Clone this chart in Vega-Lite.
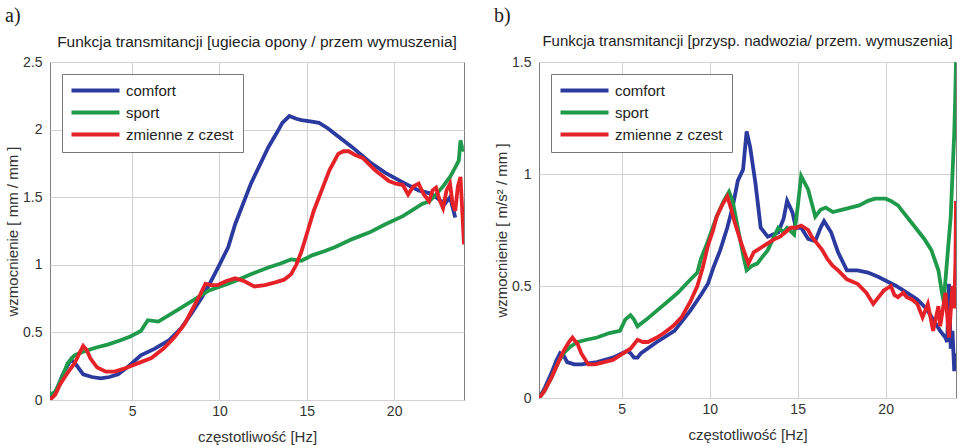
{
  "$schema": "https://vega.github.io/schema/vega-lite/v6.json",
  "padding": 5,
  "background": "white",
  "config": {
    "font": "Liberation Sans",
    "view": {"stroke": "#808080", "strokeWidth": 1},
    "concat": {"spacing": 29},
    "axis": {
      "gridColor": "#d2d2d2", "gridOpacity": 1, "gridWidth": 1,
      "domain": false, "ticks": false,
      "labelColor": "#333", "labelFontSize": 14, "labelFont": "Liberation Sans",
      "titleFontSize": 15, "titleFontWeight": "normal", "titleColor": "#333", "titleFont": "Liberation Sans"
    },
    "legend": {
      "orient": "top-left", "offset": 12, "title": null,
      "fillColor": "white", "strokeColor": "#777", "padding": 9,
      "symbolType": "M-1.4,0H8.2", "symbolStrokeWidth": 4, "symbolSize": 100,
      "labelOffset": 40, "rowPadding": 5,
      "labelFontSize": 15, "labelColor": "#222", "labelFont": "Liberation Sans"
    }
  },
  "datasets": {
    "a": [
      {"f":0.3,"v":0.0,"s":"comfort"},{"f":0.7,"v":0.08,"s":"comfort"},{"f":1.0,"v":0.18,"s":"comfort"},{"f":1.5,"v":0.30,"s":"comfort"},{"f":1.8,"v":0.26,"s":"comfort"},{"f":2.2,"v":0.19,"s":"comfort"},{"f":2.7,"v":0.17,"s":"comfort"},{"f":3.2,"v":0.16,"s":"comfort"},{"f":3.7,"v":0.17,"s":"comfort"},{"f":4.2,"v":0.19,"s":"comfort"},{"f":4.8,"v":0.25,"s":"comfort"},{"f":5.5,"v":0.33,"s":"comfort"},{"f":6.3,"v":0.38,"s":"comfort"},{"f":7.1,"v":0.44,"s":"comfort"},{"f":7.8,"v":0.53,"s":"comfort"},{"f":8.4,"v":0.64,"s":"comfort"},{"f":9.0,"v":0.76,"s":"comfort"},{"f":9.4,"v":0.85,"s":"comfort"},{"f":10.0,"v":1.0,"s":"comfort"},{"f":10.5,"v":1.13,"s":"comfort"},{"f":10.9,"v":1.30,"s":"comfort"},{"f":11.8,"v":1.60,"s":"comfort"},{"f":12.8,"v":1.87,"s":"comfort"},{"f":13.3,"v":1.98,"s":"comfort"},{"f":13.6,"v":2.05,"s":"comfort"},{"f":14.0,"v":2.10,"s":"comfort"},{"f":14.4,"v":2.08,"s":"comfort"},{"f":14.7,"v":2.07,"s":"comfort"},{"f":15.2,"v":2.06,"s":"comfort"},{"f":15.7,"v":2.05,"s":"comfort"},{"f":16.2,"v":2.01,"s":"comfort"},{"f":16.6,"v":1.97,"s":"comfort"},{"f":17.6,"v":1.87,"s":"comfort"},{"f":18.6,"v":1.76,"s":"comfort"},{"f":19.5,"v":1.68,"s":"comfort"},{"f":20.5,"v":1.61,"s":"comfort"},{"f":21.4,"v":1.55,"s":"comfort"},{"f":22.0,"v":1.53,"s":"comfort"},{"f":22.4,"v":1.50,"s":"comfort"},{"f":22.9,"v":1.45,"s":"comfort"},{"f":23.2,"v":1.50,"s":"comfort"},{"f":23.5,"v":1.35,"s":"comfort"},
      {"f":0.3,"v":0.04,"s":"sport"},{"f":0.6,"v":0.06,"s":"sport"},{"f":1.0,"v":0.17,"s":"sport"},{"f":1.3,"v":0.27,"s":"sport"},{"f":1.7,"v":0.33,"s":"sport"},{"f":2.25,"v":0.36,"s":"sport"},{"f":3.0,"v":0.39,"s":"sport"},{"f":3.6,"v":0.41,"s":"sport"},{"f":4.3,"v":0.44,"s":"sport"},{"f":4.9,"v":0.47,"s":"sport"},{"f":5.5,"v":0.51,"s":"sport"},{"f":5.9,"v":0.59,"s":"sport"},{"f":6.5,"v":0.58,"s":"sport"},{"f":7.4,"v":0.65,"s":"sport"},{"f":8.4,"v":0.73,"s":"sport"},{"f":9.4,"v":0.81,"s":"sport"},{"f":10.5,"v":0.86,"s":"sport"},{"f":10.9,"v":0.88,"s":"sport"},{"f":11.8,"v":0.93,"s":"sport"},{"f":12.8,"v":0.98,"s":"sport"},{"f":13.5,"v":1.01,"s":"sport"},{"f":14.1,"v":1.04,"s":"sport"},{"f":14.7,"v":1.03,"s":"sport"},{"f":15.3,"v":1.07,"s":"sport"},{"f":16.0,"v":1.10,"s":"sport"},{"f":16.6,"v":1.13,"s":"sport"},{"f":17.6,"v":1.19,"s":"sport"},{"f":18.6,"v":1.24,"s":"sport"},{"f":19.5,"v":1.30,"s":"sport"},{"f":20.5,"v":1.36,"s":"sport"},{"f":21.0,"v":1.40,"s":"sport"},{"f":21.6,"v":1.45,"s":"sport"},{"f":22.0,"v":1.47,"s":"sport"},{"f":22.4,"v":1.52,"s":"sport"},{"f":22.8,"v":1.58,"s":"sport"},{"f":23.2,"v":1.65,"s":"sport"},{"f":23.5,"v":1.72,"s":"sport"},{"f":23.7,"v":1.77,"s":"sport"},{"f":23.8,"v":1.92,"s":"sport"},{"f":23.9,"v":1.86,"s":"sport"},{"f":24.0,"v":1.84,"s":"sport"},
      {"f":0.3,"v":0.0,"s":"zmienne z czest"},{"f":0.6,"v":0.04,"s":"zmienne z czest"},{"f":0.9,"v":0.12,"s":"zmienne z czest"},{"f":1.3,"v":0.20,"s":"zmienne z czest"},{"f":1.7,"v":0.27,"s":"zmienne z czest"},{"f":2.0,"v":0.35,"s":"zmienne z czest"},{"f":2.2,"v":0.40,"s":"zmienne z czest"},{"f":2.4,"v":0.37,"s":"zmienne z czest"},{"f":2.6,"v":0.31,"s":"zmienne z czest"},{"f":3.0,"v":0.24,"s":"zmienne z czest"},{"f":3.5,"v":0.21,"s":"zmienne z czest"},{"f":4.0,"v":0.21,"s":"zmienne z czest"},{"f":4.5,"v":0.23,"s":"zmienne z czest"},{"f":4.9,"v":0.25,"s":"zmienne z czest"},{"f":5.5,"v":0.28,"s":"zmienne z czest"},{"f":6.1,"v":0.31,"s":"zmienne z czest"},{"f":6.8,"v":0.38,"s":"zmienne z czest"},{"f":7.4,"v":0.46,"s":"zmienne z czest"},{"f":8.0,"v":0.56,"s":"zmienne z czest"},{"f":8.4,"v":0.66,"s":"zmienne z czest"},{"f":8.9,"v":0.78,"s":"zmienne z czest"},{"f":9.2,"v":0.86,"s":"zmienne z czest"},{"f":9.5,"v":0.85,"s":"zmienne z czest"},{"f":9.9,"v":0.85,"s":"zmienne z czest"},{"f":10.4,"v":0.88,"s":"zmienne z czest"},{"f":10.9,"v":0.90,"s":"zmienne z czest"},{"f":11.4,"v":0.88,"s":"zmienne z czest"},{"f":12.0,"v":0.84,"s":"zmienne z czest"},{"f":12.6,"v":0.85,"s":"zmienne z czest"},{"f":13.2,"v":0.87,"s":"zmienne z czest"},{"f":13.7,"v":0.89,"s":"zmienne z czest"},{"f":14.1,"v":0.93,"s":"zmienne z czest"},{"f":14.4,"v":1.00,"s":"zmienne z czest"},{"f":14.7,"v":1.10,"s":"zmienne z czest"},{"f":15.1,"v":1.27,"s":"zmienne z czest"},{"f":15.4,"v":1.40,"s":"zmienne z czest"},{"f":15.7,"v":1.50,"s":"zmienne z czest"},{"f":16.0,"v":1.60,"s":"zmienne z czest"},{"f":16.3,"v":1.70,"s":"zmienne z czest"},{"f":16.8,"v":1.82,"s":"zmienne z czest"},{"f":17.1,"v":1.84,"s":"zmienne z czest"},{"f":17.4,"v":1.84,"s":"zmienne z czest"},{"f":17.8,"v":1.81,"s":"zmienne z czest"},{"f":18.2,"v":1.79,"s":"zmienne z czest"},{"f":18.9,"v":1.70,"s":"zmienne z czest"},{"f":19.3,"v":1.66,"s":"zmienne z czest"},{"f":19.7,"v":1.62,"s":"zmienne z czest"},{"f":20.1,"v":1.60,"s":"zmienne z czest"},{"f":20.5,"v":1.59,"s":"zmienne z czest"},{"f":20.8,"v":1.52,"s":"zmienne z czest"},{"f":21.1,"v":1.58,"s":"zmienne z czest"},{"f":21.4,"v":1.60,"s":"zmienne z czest"},{"f":21.7,"v":1.52,"s":"zmienne z czest"},{"f":22.0,"v":1.47,"s":"zmienne z czest"},{"f":22.2,"v":1.55,"s":"zmienne z czest"},{"f":22.4,"v":1.57,"s":"zmienne z czest"},{"f":22.6,"v":1.48,"s":"zmienne z czest"},{"f":22.8,"v":1.42,"s":"zmienne z czest"},{"f":23.0,"v":1.55,"s":"zmienne z czest"},{"f":23.2,"v":1.60,"s":"zmienne z czest"},{"f":23.35,"v":1.45,"s":"zmienne z czest"},{"f":23.5,"v":1.40,"s":"zmienne z czest"},{"f":23.65,"v":1.58,"s":"zmienne z czest"},{"f":23.8,"v":1.65,"s":"zmienne z czest"},{"f":23.9,"v":1.40,"s":"zmienne z czest"},{"f":24.0,"v":1.15,"s":"zmienne z czest"}
    ],
    "b": [
      {"f":0.3,"v":0.0,"s":"comfort"},{"f":0.6,"v":0.04,"s":"comfort"},{"f":1.0,"v":0.11,"s":"comfort"},{"f":1.3,"v":0.17,"s":"comfort"},{"f":1.5,"v":0.20,"s":"comfort"},{"f":1.7,"v":0.19,"s":"comfort"},{"f":1.9,"v":0.16,"s":"comfort"},{"f":2.3,"v":0.15,"s":"comfort"},{"f":2.7,"v":0.15,"s":"comfort"},{"f":3.6,"v":0.16,"s":"comfort"},{"f":4.5,"v":0.18,"s":"comfort"},{"f":5.3,"v":0.21,"s":"comfort"},{"f":5.5,"v":0.20,"s":"comfort"},{"f":5.7,"v":0.18,"s":"comfort"},{"f":5.9,"v":0.18,"s":"comfort"},{"f":6.1,"v":0.20,"s":"comfort"},{"f":7.0,"v":0.25,"s":"comfort"},{"f":8.0,"v":0.30,"s":"comfort"},{"f":8.9,"v":0.39,"s":"comfort"},{"f":9.5,"v":0.46,"s":"comfort"},{"f":9.9,"v":0.51,"s":"comfort"},{"f":10.2,"v":0.58,"s":"comfort"},{"f":10.6,"v":0.66,"s":"comfort"},{"f":11.0,"v":0.76,"s":"comfort"},{"f":11.3,"v":0.85,"s":"comfort"},{"f":11.6,"v":0.97,"s":"comfort"},{"f":11.9,"v":1.02,"s":"comfort"},{"f":12.1,"v":1.19,"s":"comfort"},{"f":12.3,"v":1.12,"s":"comfort"},{"f":12.6,"v":0.96,"s":"comfort"},{"f":12.9,"v":0.76,"s":"comfort"},{"f":13.3,"v":0.72,"s":"comfort"},{"f":13.9,"v":0.74,"s":"comfort"},{"f":14.2,"v":0.80,"s":"comfort"},{"f":14.4,"v":0.88,"s":"comfort"},{"f":14.7,"v":0.83,"s":"comfort"},{"f":14.9,"v":0.76,"s":"comfort"},{"f":15.2,"v":0.76,"s":"comfort"},{"f":15.6,"v":0.71,"s":"comfort"},{"f":16.0,"v":0.70,"s":"comfort"},{"f":16.3,"v":0.76,"s":"comfort"},{"f":16.5,"v":0.79,"s":"comfort"},{"f":16.9,"v":0.74,"s":"comfort"},{"f":17.3,"v":0.65,"s":"comfort"},{"f":17.8,"v":0.57,"s":"comfort"},{"f":18.4,"v":0.57,"s":"comfort"},{"f":19.0,"v":0.56,"s":"comfort"},{"f":19.6,"v":0.54,"s":"comfort"},{"f":20.1,"v":0.52,"s":"comfort"},{"f":20.6,"v":0.50,"s":"comfort"},{"f":21.2,"v":0.47,"s":"comfort"},{"f":21.8,"v":0.44,"s":"comfort"},{"f":22.3,"v":0.40,"s":"comfort"},{"f":22.7,"v":0.35,"s":"comfort"},{"f":23.1,"v":0.30,"s":"comfort"},{"f":23.4,"v":0.27,"s":"comfort"},{"f":23.5,"v":0.25,"s":"comfort"},{"f":23.6,"v":0.51,"s":"comfort"},{"f":23.7,"v":0.22,"s":"comfort"},{"f":23.8,"v":0.30,"s":"comfort"},{"f":23.9,"v":0.12,"s":"comfort"},{"f":24.0,"v":0.20,"s":"comfort"},
      {"f":0.3,"v":0.0,"s":"sport"},{"f":0.6,"v":0.03,"s":"sport"},{"f":1.0,"v":0.09,"s":"sport"},{"f":1.4,"v":0.16,"s":"sport"},{"f":1.7,"v":0.20,"s":"sport"},{"f":2.1,"v":0.23,"s":"sport"},{"f":2.5,"v":0.25,"s":"sport"},{"f":3.0,"v":0.26,"s":"sport"},{"f":3.6,"v":0.27,"s":"sport"},{"f":4.3,"v":0.29,"s":"sport"},{"f":4.9,"v":0.30,"s":"sport"},{"f":5.2,"v":0.35,"s":"sport"},{"f":5.5,"v":0.37,"s":"sport"},{"f":5.7,"v":0.35,"s":"sport"},{"f":5.9,"v":0.32,"s":"sport"},{"f":6.4,"v":0.35,"s":"sport"},{"f":7.0,"v":0.39,"s":"sport"},{"f":7.6,"v":0.43,"s":"sport"},{"f":8.2,"v":0.47,"s":"sport"},{"f":8.8,"v":0.52,"s":"sport"},{"f":9.3,"v":0.56,"s":"sport"},{"f":9.5,"v":0.62,"s":"sport"},{"f":9.9,"v":0.70,"s":"sport"},{"f":10.4,"v":0.81,"s":"sport"},{"f":10.8,"v":0.88,"s":"sport"},{"f":11.1,"v":0.92,"s":"sport"},{"f":11.3,"v":0.88,"s":"sport"},{"f":11.6,"v":0.76,"s":"sport"},{"f":11.9,"v":0.64,"s":"sport"},{"f":12.1,"v":0.57,"s":"sport"},{"f":12.4,"v":0.59,"s":"sport"},{"f":12.7,"v":0.60,"s":"sport"},{"f":13.0,"v":0.63,"s":"sport"},{"f":13.3,"v":0.66,"s":"sport"},{"f":13.6,"v":0.71,"s":"sport"},{"f":13.9,"v":0.76,"s":"sport"},{"f":14.2,"v":0.74,"s":"sport"},{"f":14.4,"v":0.76,"s":"sport"},{"f":14.8,"v":0.73,"s":"sport"},{"f":15.0,"v":0.85,"s":"sport"},{"f":15.2,"v":0.99,"s":"sport"},{"f":15.4,"v":0.96,"s":"sport"},{"f":15.6,"v":0.93,"s":"sport"},{"f":15.8,"v":0.87,"s":"sport"},{"f":16.0,"v":0.81,"s":"sport"},{"f":16.3,"v":0.84,"s":"sport"},{"f":16.6,"v":0.85,"s":"sport"},{"f":17.0,"v":0.83,"s":"sport"},{"f":17.5,"v":0.84,"s":"sport"},{"f":18.0,"v":0.85,"s":"sport"},{"f":18.5,"v":0.86,"s":"sport"},{"f":19.0,"v":0.88,"s":"sport"},{"f":19.4,"v":0.89,"s":"sport"},{"f":19.7,"v":0.89,"s":"sport"},{"f":20.0,"v":0.89,"s":"sport"},{"f":20.3,"v":0.88,"s":"sport"},{"f":20.7,"v":0.86,"s":"sport"},{"f":21.0,"v":0.83,"s":"sport"},{"f":21.4,"v":0.79,"s":"sport"},{"f":21.8,"v":0.75,"s":"sport"},{"f":22.2,"v":0.71,"s":"sport"},{"f":22.6,"v":0.66,"s":"sport"},{"f":23.0,"v":0.57,"s":"sport"},{"f":23.2,"v":0.47,"s":"sport"},{"f":23.3,"v":0.43,"s":"sport"},{"f":23.5,"v":0.62,"s":"sport"},{"f":23.7,"v":0.81,"s":"sport"},{"f":23.8,"v":1.00,"s":"sport"},{"f":23.9,"v":1.18,"s":"sport"},{"f":23.95,"v":1.32,"s":"sport"},{"f":24.0,"v":1.50,"s":"sport"},
      {"f":0.3,"v":0.0,"s":"zmienne z czest"},{"f":0.6,"v":0.03,"s":"zmienne z czest"},{"f":1.0,"v":0.09,"s":"zmienne z czest"},{"f":1.4,"v":0.16,"s":"zmienne z czest"},{"f":1.7,"v":0.21,"s":"zmienne z czest"},{"f":2.0,"v":0.25,"s":"zmienne z czest"},{"f":2.2,"v":0.27,"s":"zmienne z czest"},{"f":2.5,"v":0.24,"s":"zmienne z czest"},{"f":2.7,"v":0.20,"s":"zmienne z czest"},{"f":3.1,"v":0.15,"s":"zmienne z czest"},{"f":3.5,"v":0.15,"s":"zmienne z czest"},{"f":4.0,"v":0.16,"s":"zmienne z czest"},{"f":4.5,"v":0.17,"s":"zmienne z czest"},{"f":4.9,"v":0.19,"s":"zmienne z czest"},{"f":5.5,"v":0.22,"s":"zmienne z czest"},{"f":5.9,"v":0.26,"s":"zmienne z czest"},{"f":6.2,"v":0.25,"s":"zmienne z czest"},{"f":6.5,"v":0.25,"s":"zmienne z czest"},{"f":7.0,"v":0.27,"s":"zmienne z czest"},{"f":7.4,"v":0.29,"s":"zmienne z czest"},{"f":7.9,"v":0.32,"s":"zmienne z czest"},{"f":8.4,"v":0.36,"s":"zmienne z czest"},{"f":8.9,"v":0.43,"s":"zmienne z czest"},{"f":9.3,"v":0.50,"s":"zmienne z czest"},{"f":9.6,"v":0.58,"s":"zmienne z czest"},{"f":9.9,"v":0.68,"s":"zmienne z czest"},{"f":10.2,"v":0.75,"s":"zmienne z czest"},{"f":10.4,"v":0.81,"s":"zmienne z czest"},{"f":10.7,"v":0.86,"s":"zmienne z czest"},{"f":11.0,"v":0.90,"s":"zmienne z czest"},{"f":11.2,"v":0.85,"s":"zmienne z czest"},{"f":11.4,"v":0.79,"s":"zmienne z czest"},{"f":11.8,"v":0.69,"s":"zmienne z czest"},{"f":12.2,"v":0.60,"s":"zmienne z czest"},{"f":12.5,"v":0.65,"s":"zmienne z czest"},{"f":12.9,"v":0.67,"s":"zmienne z czest"},{"f":13.3,"v":0.69,"s":"zmienne z czest"},{"f":13.7,"v":0.71,"s":"zmienne z czest"},{"f":14.0,"v":0.72,"s":"zmienne z czest"},{"f":14.3,"v":0.74,"s":"zmienne z czest"},{"f":14.6,"v":0.76,"s":"zmienne z czest"},{"f":14.9,"v":0.76,"s":"zmienne z czest"},{"f":15.2,"v":0.77,"s":"zmienne z czest"},{"f":15.6,"v":0.75,"s":"zmienne z czest"},{"f":15.8,"v":0.72,"s":"zmienne z czest"},{"f":16.1,"v":0.69,"s":"zmienne z czest"},{"f":16.4,"v":0.66,"s":"zmienne z czest"},{"f":16.7,"v":0.62,"s":"zmienne z czest"},{"f":17.0,"v":0.59,"s":"zmienne z czest"},{"f":17.3,"v":0.57,"s":"zmienne z czest"},{"f":17.8,"v":0.53,"s":"zmienne z czest"},{"f":18.4,"v":0.51,"s":"zmienne z czest"},{"f":18.9,"v":0.47,"s":"zmienne z czest"},{"f":19.3,"v":0.42,"s":"zmienne z czest"},{"f":19.6,"v":0.45,"s":"zmienne z czest"},{"f":19.9,"v":0.48,"s":"zmienne z czest"},{"f":20.3,"v":0.50,"s":"zmienne z czest"},{"f":20.5,"v":0.46,"s":"zmienne z czest"},{"f":20.7,"v":0.45,"s":"zmienne z czest"},{"f":21.0,"v":0.47,"s":"zmienne z czest"},{"f":21.2,"v":0.45,"s":"zmienne z czest"},{"f":21.5,"v":0.44,"s":"zmienne z czest"},{"f":21.8,"v":0.42,"s":"zmienne z czest"},{"f":22.1,"v":0.36,"s":"zmienne z czest"},{"f":22.4,"v":0.42,"s":"zmienne z czest"},{"f":22.7,"v":0.30,"s":"zmienne z czest"},{"f":23.0,"v":0.41,"s":"zmienne z czest"},{"f":23.1,"v":0.32,"s":"zmienne z czest"},{"f":23.4,"v":0.47,"s":"zmienne z czest"},{"f":23.6,"v":0.27,"s":"zmienne z czest"},{"f":23.8,"v":0.50,"s":"zmienne z czest"},{"f":23.9,"v":0.40,"s":"zmienne z czest"},{"f":23.97,"v":0.62,"s":"zmienne z czest"},{"f":24.0,"v":0.88,"s":"zmienne z czest"}
    ]
  },
  "hconcat": [
    {
      "title": {"text": "a)", "anchor": "start", "frame": "bounds", "font": "Liberation Serif", "fontSize": 20, "fontWeight": "normal", "color": "#222", "offset": 14, "dy": 6},
      "vconcat": [
        {
          "title": {"text": "Funkcja transmitancji [ugiecia opony / przem wymuszenia]", "anchor": "middle", "frame": "group", "font": "Liberation Sans", "fontSize": 15.5, "fontWeight": "normal", "color": "#222", "offset": 5},
          "width": 414, "height": 338,
          "data": {"name": "a"},
          "mark": {"type": "line", "strokeWidth": 3.8, "clip": true},
          "encoding": {
            "x": {"field": "f", "type": "quantitative", "scale": {"domain": [0.3, 24], "nice": false, "zero": false}, "axis": {"values": [5, 10, 15, 20], "title": "częstotliwość [Hz]", "labelPadding": 4, "titlePadding": 11}},
            "y": {"field": "v", "type": "quantitative", "scale": {"domain": [0, 2.5], "nice": false}, "axis": {"values": [0, 0.5, 1, 1.5, 2, 2.5], "format": "~g", "title": "wzmocnienie [ mm  /  mm ]", "labelPadding": 8, "titlePadding": 2}},
            "color": {"field": "s", "type": "nominal", "scale": {"domain": ["comfort", "sport", "zmienne z czest"], "range": ["#2b3a9e", "#1f9a4a", "#e42228"]}}
          }
        }
      ]
    },
    {
      "title": {"text": "b)", "anchor": "start", "frame": "bounds", "font": "Liberation Serif", "fontSize": 20, "fontWeight": "normal", "color": "#222", "offset": 14, "dy": 6},
      "vconcat": [
        {
          "title": {"text": "Funkcja transmitancji [przysp. nadwozia/ przem. wymuszenia]", "anchor": "middle", "frame": "group", "font": "Liberation Sans", "fontSize": 15, "fontWeight": "normal", "color": "#222", "offset": 6},
          "width": 417, "height": 336,
          "data": {"name": "b"},
          "mark": {"type": "line", "strokeWidth": 3.8, "clip": true},
          "encoding": {
            "x": {"field": "f", "type": "quantitative", "scale": {"domain": [0.3, 24], "nice": false, "zero": false}, "axis": {"values": [5, 10, 15, 20], "title": "częstotliwość [Hz]", "labelPadding": 4, "titlePadding": 11}},
            "y": {"field": "v", "type": "quantitative", "scale": {"domain": [0, 1.5], "nice": false}, "axis": {"values": [0, 0.5, 1, 1.5], "format": "~g", "title": "wzmocnienie [ m/s² / mm ]", "labelPadding": 8, "titlePadding": 2}},
            "color": {"field": "s", "type": "nominal", "scale": {"domain": ["comfort", "sport", "zmienne z czest"], "range": ["#2b3a9e", "#1f9a4a", "#e42228"]}}
          }
        }
      ]
    }
  ],
  "resolve": {"legend": {"color": "independent"}}
}
